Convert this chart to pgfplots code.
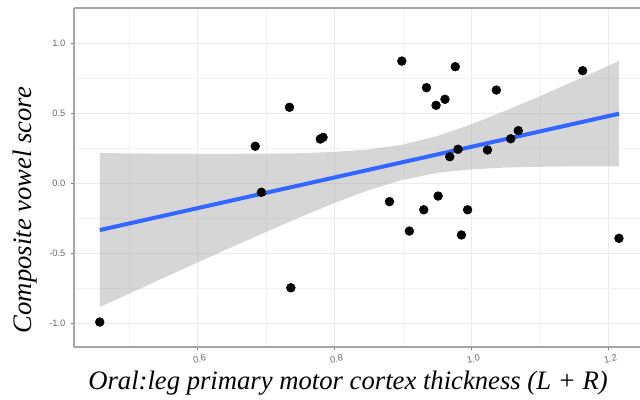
\documentclass[border=0pt]{standalone}
\usepackage{pgfplots}
\pgfplotsset{compat=1.18}
\usepackage{fontspec}
\setmainfont{Liberation Serif}
\setsansfont{Liberation Sans}
\definecolor{ggblue}{HTML}{3366FF}
\definecolor{ggborder}{HTML}{A6A6A6}
\definecolor{ggtick}{HTML}{7F7F7F}
\begin{document}
\begin{tikzpicture}
\begin{axis}[
  scale only axis, width=424.5pt, height=254.25pt,
  at={(0,0)}, anchor=south west,
  xmin=0.4194, xmax=1.2457, ymin=-1.166, ymax=1.255,
  axis x line*=bottom, axis y line*=left,
  axis line style={color=ggborder, line width=0.8pt, -},
  xtick={0.6,0.8,1.0,1.2}, ytick={-1,-0.5,0,0.5,1},
  minor xtick={0.5,0.7,0.9,1.1}, minor ytick={-0.75,-0.25,0.25,0.75,1.25},
  grid=both,
  major grid style={color=black!8, line width=0.6pt},
  minor grid style={color=black!5, line width=0.4pt},
  tick align=outside, major tick length=2.4pt, minor tick length=0pt,
  tick style={color=ggtick, line width=0.6pt},
  /pgf/number format/.cd, fixed, fixed zerofill, precision=1, assume math mode=true,
  /pgfplots/.cd,
  tick label style={font=\sffamily\fontsize{7}{8}\selectfont, text=black!58},
  xticklabel style={rotate=12, anchor=north, yshift=-0.5pt},
  yticklabel style={xshift=-0.5pt},
  clip=false,
]
\addplot[only marks, mark=*, mark size=3.3pt, color=black] coordinates {
(0.457,-0.988) (0.684,0.268) (0.693,-0.061) (0.734,0.546) (0.736,-0.743)
(0.779,0.319) (0.783,0.331) (0.880,-0.128) (0.898,0.876) (0.909,-0.338)
(0.930,-0.186) (0.934,0.686) (0.948,0.560) (0.951,-0.088) (0.961,0.603)
(0.968,0.193) (0.976,0.836) (0.980,0.246) (0.985,-0.366) (0.994,-0.186)
(1.023,0.241) (1.036,0.669) (1.057,0.321) (1.068,0.379) (1.162,0.807)
(1.215,-0.390)
};
\addplot[draw=none, fill=black!40, fill opacity=0.4] coordinates {
(0.457,0.219) (0.50,0.217) (0.55,0.215) (0.60,0.214) (0.65,0.214)
(0.70,0.215) (0.75,0.218) (0.80,0.227) (0.85,0.245) (0.90,0.280)
(0.95,0.341) (1.00,0.425) (1.05,0.523) (1.10,0.626) (1.15,0.734) (1.215,0.876)
(1.215,0.124) (1.15,0.124) (1.10,0.121) (1.05,0.116) (1.00,0.103)
(0.95,0.078) (0.90,0.029) (0.85,-0.045) (0.80,-0.137) (0.75,-0.238)
(0.70,-0.344) (0.65,-0.452) (0.60,-0.562) (0.55,-0.673) (0.50,-0.785) (0.457,-0.881)
} -- cycle;
\addplot[color=ggblue, line width=3pt] coordinates {(0.457,-0.331) (1.215,0.500)};
\end{axis}
\draw[color=ggborder, line width=0.8pt] (0,254.25pt) -- (424.5pt,254.25pt);
\node[anchor=base, font=\itshape\fontsize{20}{24}\selectfont] at (205.5pt,-32.25pt) {Oral:leg primary motor cortex thickness (L + R)};
\node[anchor=base, rotate=90, font=\itshape\fontsize{20}{24}\selectfont] at (-31.5pt,102.75pt) {Composite vowel score};
\pgfresetboundingbox
\path[use as bounding box] (-55.5pt,-39.75pt) rectangle (424.5pt,260.25pt);
\end{tikzpicture}
\end{document}
